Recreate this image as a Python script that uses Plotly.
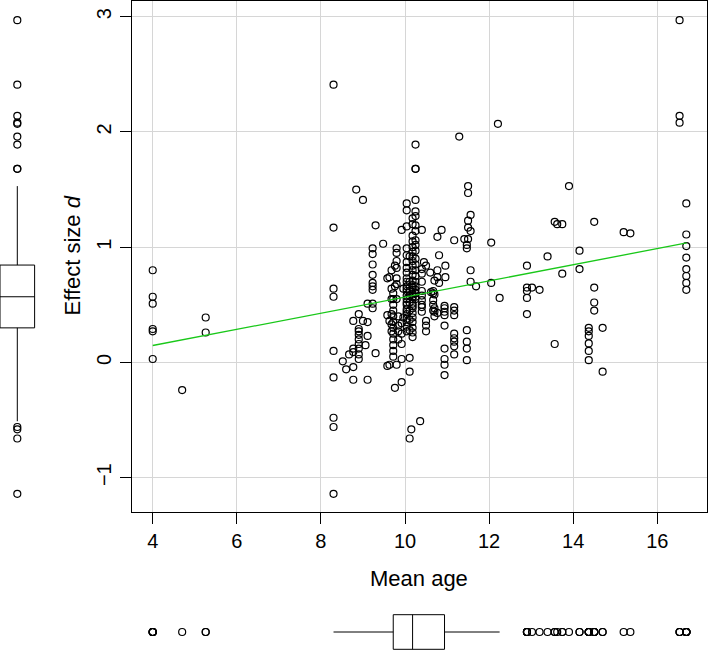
import plotly.graph_objects as go

# ---- data (one row per visual column of points) ----
mean_age = [
    4.0, 4.0, 4.0, 4.0, 4.0, 4.0,
    4.7,
    5.26, 5.26,
    8.3, 8.3, 8.3, 8.3, 8.3, 8.3, 8.3, 8.3, 8.3,
    8.52, 8.6, 8.67,
    8.77, 8.77, 8.77, 8.77, 8.77,
    8.84,
    8.9, 8.9, 8.9, 8.9, 8.9, 8.9, 8.9, 8.9, 8.9,
    9.0, 9.0,
    9.06,
    9.11, 9.11, 9.11, 9.11,
    9.23, 9.23, 9.23, 9.23, 9.23, 9.23, 9.23, 9.23, 9.23,
    9.3, 9.3,
    9.48,
    9.58, 9.58, 9.58,
    9.63, 9.63, 9.63,
    9.68, 9.68, 9.68, 9.68, 9.68, 9.68,
    9.72, 9.72, 9.72, 9.72, 9.72, 9.72, 9.72, 9.72, 9.72, 9.72, 9.72, 9.72,
    9.76, 9.76, 9.76,
    9.8, 9.8, 9.8, 9.8, 9.8, 9.8, 9.8, 9.8,
    9.84, 9.84, 9.84, 9.84,
    9.92, 9.92, 9.92, 9.92, 9.92, 9.92,
    9.96, 9.96,
    10.04, 10.04, 10.04, 10.04, 10.04, 10.04, 10.04, 10.04, 10.04, 10.04, 10.04, 10.04,
    10.04, 10.04, 10.04, 10.04, 10.04, 10.04, 10.04, 10.04, 10.04, 10.04, 10.04, 10.04,
    10.11, 10.11, 10.11, 10.11, 10.11, 10.11, 10.11, 10.11, 10.11, 10.11, 10.11,
    10.15,
    10.18, 10.18, 10.18, 10.18, 10.18, 10.18, 10.18, 10.18, 10.18, 10.18, 10.18, 10.18, 10.18,
    10.18, 10.18, 10.18, 10.18, 10.18, 10.18, 10.18, 10.18, 10.18, 10.18, 10.18, 10.18, 10.18, 10.18,
    10.25, 10.25, 10.25, 10.25, 10.25, 10.25, 10.25, 10.25, 10.25, 10.25, 10.25,
    10.25, 10.25, 10.25, 10.25, 10.25, 10.25, 10.25, 10.25, 10.25, 10.25,
    10.36,
    10.4, 10.4, 10.4, 10.4, 10.4, 10.4, 10.4, 10.4, 10.4, 10.4,
    10.45,
    10.5, 10.5, 10.5, 10.5,
    10.6, 10.62,
    10.67, 10.67, 10.67, 10.67, 10.67,
    10.7, 10.7, 10.7, 10.7, 10.7,
    10.77, 10.77, 10.77, 10.77,
    10.81, 10.81,
    10.87,
    10.94, 10.94, 10.94, 10.94, 10.94, 10.94, 10.94, 10.94, 10.94,
    10.96, 10.96,
    11.17, 11.17, 11.17, 11.17, 11.17, 11.17, 11.17, 11.17, 11.17,
    11.29, 11.41,
    11.47, 11.47, 11.47, 11.47, 11.47, 11.47,
    11.5, 11.5, 11.5, 11.5, 11.5,
    11.56, 11.56, 11.56, 11.56,
    11.69,
    12.05, 12.05,
    12.21, 12.25,
    12.9, 12.9, 12.9, 12.9, 12.9,
    13.02, 13.2, 13.39,
    13.56, 13.56,
    13.62,
    13.74, 13.74,
    13.9,
    14.15, 14.15,
    14.37, 14.37, 14.37, 14.37, 14.37, 14.37,
    14.5, 14.5, 14.5, 14.5,
    14.7, 14.7,
    15.2, 15.36,
    16.53, 16.53, 16.53,
    16.69, 16.69, 16.69, 16.69, 16.69, 16.69, 16.69, 16.69,
]

effect_d = [
    0.80, 0.57, 0.51, 0.29, 0.27, 0.03,
    -0.24,
    0.39, 0.26,
    2.41, 1.17, 0.64, 0.57, 0.10, -0.13, -0.48, -0.56, -1.14,
    0.01, -0.06, 0.07,
    0.36, 0.12, 0.09, -0.04, -0.15,
    1.50,
    0.42, 0.29, 0.27, 0.24, 0.20, 0.16, 0.12, 0.07, 0.03,
    1.41, 0.36,
    0.15,
    0.51, 0.35, 0.23, -0.15,
    0.99, 0.94, 0.85, 0.76, 0.69, 0.66, 0.63, 0.51, 0.47,
    1.19, 0.08,
    1.03,
    0.73, 0.41, -0.03,
    0.74, 0.36, -0.02,
    0.80, 0.64, 0.55, 0.42, 0.33, 0.27,
    0.60, 0.55, 0.50, 0.45, 0.40, 0.35, 0.30, 0.25, 0.20, 0.15, 0.10, 0.05,
    0.84, 0.66, -0.22,
    0.99, 0.95, 0.88, 0.82, 0.73, 0.68, 0.55, -0.02,
    0.40, 0.32, 0.27, 0.20,
    1.15, 0.34, 0.25, 0.16, 0.03, -0.17,
    0.64, 0.39,
    1.38, 1.32, 1.18, 0.99, 0.93, 0.87, 0.82, 0.78, 0.73, 0.70, 0.66, 0.64,
    0.62, 0.58, 0.55, 0.52, 0.50, 0.46, 0.44, 0.42, 0.38, 0.35, 0.31, 0.27,
    0.92, 0.70, 0.62, 0.58, 0.52, 0.45, 0.37, 0.28, 0.04, -0.08, -0.66,
    -0.58,
    1.25, 1.20, 1.10, 1.05, 1.00, 0.96, 0.92, 0.88, 0.84, 0.80, 0.76, 0.71, 0.65,
    0.67, 0.63, 0.59, 0.57, 0.55, 0.51, 0.49, 0.47, 0.43, 0.39, 0.35, 0.30, 0.26, 0.22,
    1.89, 1.68, 1.68, 1.41, 1.31, 1.27, 1.19, 1.14, 1.06, 1.02, 0.97,
    0.90, 0.85, 0.80, 0.75, 0.70, 0.66, 0.63, 0.60, 0.57, 0.55,
    -0.51,
    1.15, 0.81, 0.77, 0.70, 0.62, 0.58, 0.54, 0.50, 0.48, 0.44,
    0.87,
    0.84, 0.36, 0.32, 0.27,
    0.78, 0.61,
    0.62, 0.60, 0.54, 0.50, 0.45,
    0.71, 0.59, 0.47, 0.44, 0.40,
    1.09, 0.80, 0.74, 0.43,
    0.93, 0.69,
    1.15,
    0.49, 0.47, 0.44, 0.41, 0.32, 0.12, 0.03, -0.02, -0.11,
    0.84, 0.74,
    1.06, 0.48, 0.45, 0.41, 0.25, 0.21, 0.18, 0.14, 0.07,
    1.96, 1.07,
    1.02, 0.99, 0.28, 0.18, 0.12, 0.02,
    1.53, 1.47, 1.23, 1.17, 1.07,
    1.28, 1.14, 0.80, 0.70,
    0.66,
    1.04, 0.69,
    2.07, 0.56,
    0.84, 0.65, 0.62, 0.56, 0.42,
    0.65, 0.63, 0.92,
    1.22, 0.16,
    1.20,
    1.20, 0.77,
    1.53,
    0.97, 0.81,
    0.30, 0.27, 0.23, 0.165, 0.10, 0.02,
    1.22, 0.65, 0.52, 0.45,
    0.30, -0.08,
    1.13, 1.12,
    2.97, 2.14, 2.08,
    1.38, 1.11, 1.01, 0.91, 0.81, 0.75, 0.69, 0.63,
]

# fitted regression line end points
fit_age = [4.0, 16.7]
fit_d = [0.147, 1.037]

x_ticks = [4, 6, 8, 10, 12, 14, 16]
y_ticks = [-1, 0, 1, 2, 3]

W, H = 709, 650
FONT = "Liberation Sans, Arial, Helvetica, sans-serif"

# plot frame in pixels
L, R, T, B = 131.7, 706.7, 1.0, 511.7
X_RANGE = [3.50, 17.175]
Y_RANGE = [-1.295, 3.136]
X_DOM = [L / W, R / W]
Y_DOM = [1 - B / H, 1 - T / H]

circ = dict(symbol="circle-open", size=7, color="black",
            line=dict(width=1.2, color="black"))

fig = go.Figure()

fig.add_trace(go.Scatter(
    x=mean_age, y=effect_d, mode="markers", marker=circ,
    xaxis="x", yaxis="y", showlegend=False, cliponaxis=False))

fig.add_trace(go.Scatter(
    x=fit_age, y=fit_d, mode="lines",
    line=dict(color="#19c819", width=1.3),
    xaxis="x", yaxis="y", showlegend=False))

# marginal box plots (own axes, same scales as the main plot)
fig.add_trace(go.Box(
    y=effect_d, x0=0, width=1, xaxis="x2", yaxis="y3",
    boxpoints="outliers", pointpos=0, jitter=0, whiskerwidth=0,
    fillcolor="white", line=dict(color="black", width=1),
    marker=circ, showlegend=False))

fig.add_trace(go.Box(
    x=mean_age, y0=0, width=1, orientation="h", xaxis="x3", yaxis="y2",
    boxpoints="outliers", pointpos=0, jitter=0, whiskerwidth=0,
    fillcolor="white", line=dict(color="black", width=1),
    marker=circ, showlegend=False))

axis_common = dict(
    showgrid=True, gridcolor="#d6d6d6", gridwidth=1.2, automargin=False,
    zeroline=False, showline=True, linecolor="black", linewidth=1,
    mirror=True, ticks="outside", ticklen=11, tickwidth=1, tickcolor="black",
    tickfont=dict(family=FONT, size=20, color="black"),
)
hidden = dict(visible=False, showgrid=False, zeroline=False, automargin=False)

fig.update_layout(
    width=W, height=H,
    margin=dict(l=0, r=0, t=0, b=0),
    paper_bgcolor="white", plot_bgcolor="white",
    font=dict(family=FONT, color="black"),
    xaxis=dict(domain=X_DOM, range=X_RANGE, tickvals=x_ticks,
               ticklabelstandoff=0, anchor="y", **axis_common),
    yaxis=dict(domain=Y_DOM, range=Y_RANGE, tickvals=y_ticks, tickangle=-90,
               ticklabelstandoff=1, anchor="x", **axis_common),
    xaxis2=dict(domain=[0, 37 / W], range=[-0.5, 0.569], anchor="y3", **hidden),
    yaxis3=dict(domain=Y_DOM, range=Y_RANGE, anchor="x2", **hidden),
    xaxis3=dict(domain=X_DOM, range=X_RANGE, anchor="y2", **hidden),
    yaxis2=dict(domain=[0, 39 / H], range=[-0.52, 0.607], anchor="x3", **hidden),
    annotations=[
        dict(text="Mean age", x=(L + R) / 2 / W, y=1 - 578 / H,
             xref="paper", yref="paper", xanchor="center", yanchor="middle",
             showarrow=False, font=dict(family=FONT, size=22, color="black")),
        dict(text="Effect size <i>d</i>", x=71.5 / W, y=1 - 256 / H,
             xref="paper", yref="paper", xanchor="center", yanchor="middle",
             textangle=-90, showarrow=False,
             font=dict(family=FONT, size=22, color="black")),
    ],
)

fig.write_html(
    "out.html",
    config={"displayModeBar": False},
    post_script="document.body.style.margin='0';"
                "document.body.style.overflow='hidden';",
)
